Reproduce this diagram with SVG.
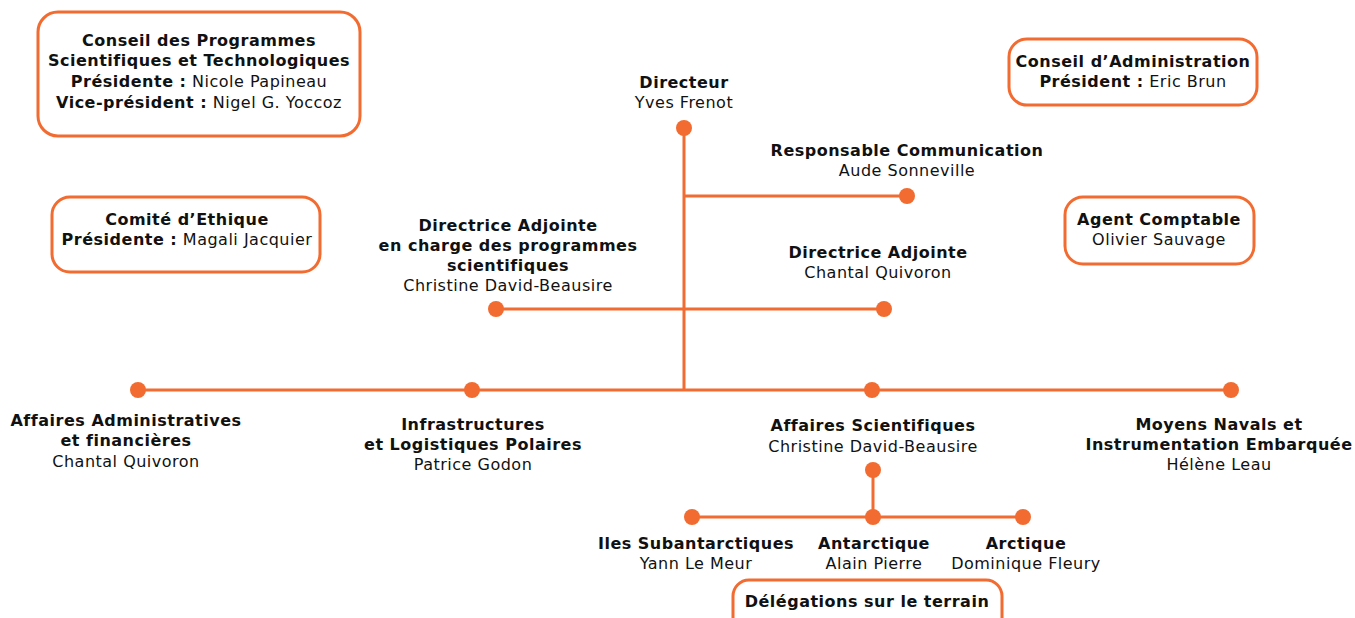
<svg xmlns="http://www.w3.org/2000/svg" width="1355" height="618" viewBox="0 0 1355 618">
  <style>
    text { font-family: "DejaVu Sans", Verdana, sans-serif; font-size: 16px; letter-spacing: 0.5px; fill: #111; text-anchor: middle; }
    .b { font-weight: bold; }
    .box { fill: #fff; stroke: #F26B30; stroke-width: 3; }
    .ln { stroke: #F26B30; stroke-width: 3; fill: none; }
    .dot { fill: #F26B30; }
  </style>
  <rect width="1355" height="618" fill="#fff"/>

  <!-- connectors -->
  <g id="connectors">
    <line class="ln" x1="684" y1="128" x2="684" y2="390"/>
    <line class="ln" x1="684" y1="196" x2="907" y2="196"/>
    <line class="ln" x1="496" y1="309" x2="884" y2="309"/>
    <line class="ln" x1="138" y1="390" x2="1231" y2="390"/>
    <line class="ln" x1="873" y1="470" x2="873" y2="517"/>
    <line class="ln" x1="692" y1="517" x2="1023" y2="517"/>
  </g>

  <!-- advisory boards -->
  <g id="cpst">
    <rect class="box" x="38" y="12" width="322" height="124" rx="20"/>
    <text x="199" y="46" class="b">Conseil des Programmes</text>
    <text x="199" y="66" class="b">Scientifiques et Technologiques</text>
    <text x="199" y="87"><tspan class="b">Présidente :</tspan> Nicole Papineau</text>
    <text x="199" y="108"><tspan class="b">Vice-président :</tspan> Nigel G. Yoccoz</text>
  </g>
  <g id="ca">
    <rect class="box" x="1009" y="39" width="248" height="66" rx="18"/>
    <text x="1133" y="67" class="b">Conseil d’Administration</text>
    <text x="1133" y="87"><tspan class="b">Président :</tspan> Eric Brun</text>
  </g>
  <g id="ethique">
    <rect class="box" x="52" y="197" width="268" height="75" rx="18"/>
    <text x="187" y="225" class="b">Comité d’Ethique</text>
    <text x="187" y="245"><tspan class="b">Présidente :</tspan> Magali Jacquier</text>
  </g>
  <g id="comptable">
    <rect class="box" x="1065" y="197" width="189" height="67" rx="18"/>
    <text x="1159" y="225" class="b">Agent Comptable</text>
    <text x="1159" y="245">Olivier Sauvage</text>
  </g>

  <!-- direction -->
  <g id="directeur">
    <circle class="dot" cx="684" cy="128" r="8"/>
    <text x="684" y="88" class="b">Directeur</text>
    <text x="684" y="108">Yves Frenot</text>
  </g>
  <g id="communication">
    <circle class="dot" cx="907" cy="196" r="8"/>
    <text x="907" y="156" class="b">Responsable Communication</text>
    <text x="907" y="176">Aude Sonneville</text>
  </g>
  <g id="adjointe-prog">
    <circle class="dot" cx="496" cy="309" r="8"/>
    <text x="508" y="231" class="b">Directrice Adjointe</text>
    <text x="508" y="251" class="b">en charge des programmes</text>
    <text x="508" y="271" class="b">scientifiques</text>
    <text x="508" y="291">Christine David-Beausire</text>
  </g>
  <g id="adjointe">
    <circle class="dot" cx="884" cy="309" r="8"/>
    <text x="878" y="258" class="b">Directrice Adjointe</text>
    <text x="878" y="278">Chantal Quivoron</text>
  </g>

  <!-- departments -->
  <g id="aaf">
    <circle class="dot" cx="138" cy="390" r="8"/>
    <text x="126" y="426" class="b">Affaires Administratives</text>
    <text x="126" y="446" class="b">et financières</text>
    <text x="126" y="467">Chantal Quivoron</text>
  </g>
  <g id="ilp">
    <circle class="dot" cx="472" cy="390" r="8"/>
    <text x="473" y="430" class="b">Infrastructures</text>
    <text x="473" y="450" class="b">et Logistiques Polaires</text>
    <text x="473" y="470">Patrice Godon</text>
  </g>
  <g id="as">
    <circle class="dot" cx="872" cy="390" r="8"/>
    <text x="873" y="431" class="b">Affaires Scientifiques</text>
    <text x="873" y="452">Christine David-Beausire</text>
    <circle class="dot" cx="873" cy="470" r="8"/>
  </g>
  <g id="mnie">
    <circle class="dot" cx="1231" cy="390" r="8"/>
    <text x="1219" y="430" class="b">Moyens Navals et</text>
    <text x="1219" y="450" class="b">Instrumentation Embarquée</text>
    <text x="1219" y="470">Hélène Leau</text>
  </g>

  <!-- field delegations -->
  <g id="subantarctiques">
    <circle class="dot" cx="692" cy="517" r="8"/>
    <text x="696" y="549" class="b">Iles Subantarctiques</text>
    <text x="696" y="569">Yann Le Meur</text>
  </g>
  <g id="antarctique">
    <circle class="dot" cx="873" cy="517" r="8"/>
    <text x="874" y="549" class="b">Antarctique</text>
    <text x="874" y="569">Alain Pierre</text>
  </g>
  <g id="arctique">
    <circle class="dot" cx="1023" cy="517" r="8"/>
    <text x="1026" y="549" class="b">Arctique</text>
    <text x="1026" y="569">Dominique Fleury</text>
  </g>
  <g id="delegations">
    <rect class="box" x="733" y="580" width="269" height="60" rx="16"/>
    <text x="867" y="607" class="b">Délégations sur le terrain</text>
  </g>
</svg>
